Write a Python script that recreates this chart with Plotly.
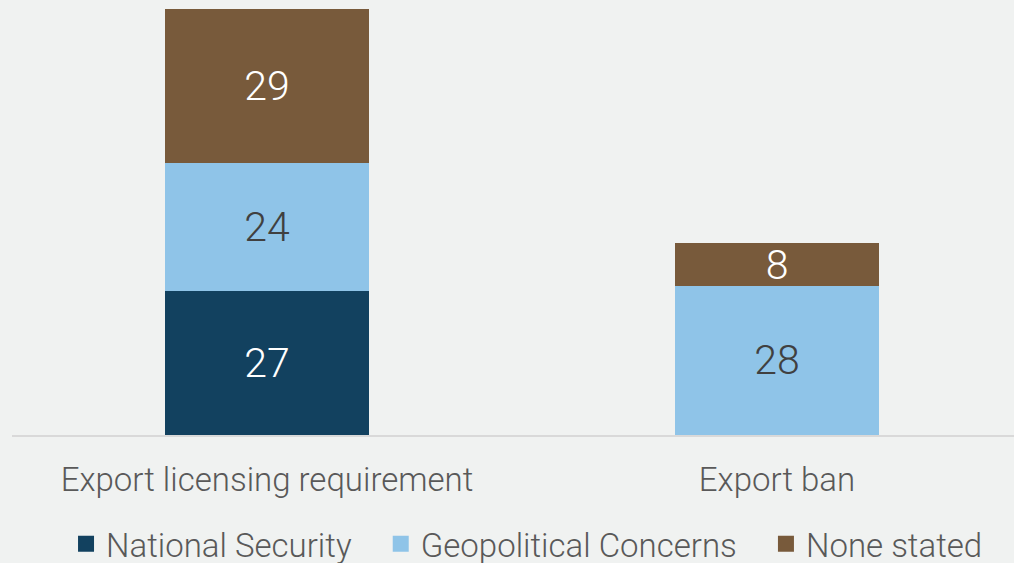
import plotly.graph_objects as go

categories = ["Export licensing requirement", "Export ban"]
series_names = ["National Security", "Geopolitical Concerns", "None stated"]
national_security = [27, None]
geopolitical = [24, 28]
none_stated = [29, 8]

colors = ["#12415f", "#8fc4e8", "#785a3b"]
label_colors = ["#ffffff", "#404040", "#ffffff"]
values = [national_security, geopolitical, none_stated]
legend_pad = ["\u00a0\u00a0\u00a0", "\u00a0\u00a0\u00a0", ""]

FONT = "Roboto"

fig = go.Figure()
for name, vals, col, lc, pad in zip(series_names, values, colors, label_colors, legend_pad):
    fig.add_trace(go.Bar(
        x=categories, y=vals, name=name,
        marker=dict(color=col, line=dict(width=0)),
        text=[str(v) if v is not None else "" for v in vals],
        textposition="inside", insidetextanchor="middle", textangle=0,
        constraintext="none",
        textfont=dict(color=lc, size=41, family=FONT, weight=300),
        width=0.4, showlegend=False,
    ))
    fig.add_trace(go.Scatter(
        x=[None], y=[None], mode="markers", name=name + pad,
        marker=dict(symbol="square", size=18, color=col),
        showlegend=True,
    ))

fig.update_layout(
    barmode="stack",
    width=1014, height=563,
    paper_bgcolor="#f0f2f1", plot_bgcolor="#f0f2f1",
    margin=dict(l=12, r=0, t=0, b=128, autoexpand=False),
    font=dict(family=FONT, color="#595959", size=33, weight=300),
    uniformtext=dict(mode=False),
    legend=dict(
        orientation="h", x=0.514, xanchor="center", y=-0.25, yanchor="middle",
        font=dict(size=33, color="#595959", family=FONT, weight=300),
        itemsizing="trace", traceorder="normal",
        bgcolor="rgba(0,0,0,0)",
    ),
)
fig.update_xaxes(
    range=[-0.5, 1.4647], showgrid=False, showline=True, linecolor="#d9d9d9",
    linewidth=2, ticks="", ticklabelstandoff=14,
    tickfont=dict(size=33, color="#595959", family=FONT, weight=300),
    fixedrange=True,
)
fig.update_yaxes(range=[0, 81.7], visible=False, showgrid=False, zeroline=False,
                 fixedrange=True)

fig.write_html(
    "out.html",
    config={"displayModeBar": False, "staticPlot": True},
    post_script="document.body.style.margin='0';document.body.style.overflow='hidden';",
)
